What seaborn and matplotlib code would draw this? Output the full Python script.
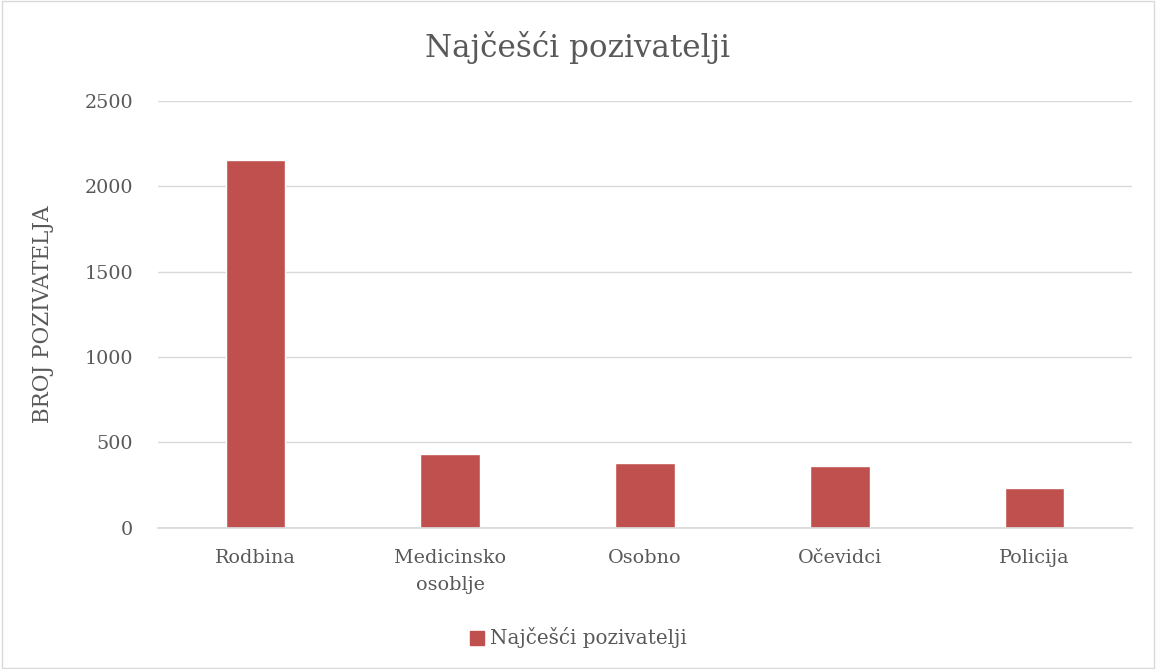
import matplotlib
matplotlib.use("Agg")
import matplotlib.pyplot as plt
import seaborn as sns
import pandas as pd
from matplotlib.patches import Patch

categories = ["Rodbina", "Medicinsko\nosoblje", "Osobno", "Očevidci", "Policija"]
values = [2155, 433, 378, 364, 231]
series_name = "Najčešći pozivatelji"
yticks = [0, 500, 1000, 1500, 2000, 2500]

sns.set_theme(style="white")
plt.rcParams['font.family'] = ['DejaVu Serif']
txt = "#595959"
bar_color = "#C0504D"

df = pd.DataFrame({"cat": categories, "val": values})

fig = plt.figure(figsize=(11.56, 6.69), dpi=100)
ax = fig.add_axes([158/1156, 1 - 527.7/669, (1132-158)/1156, (527.7-100.7)/669])
sns.barplot(data=df, x="cat", y="val", color=bar_color, saturation=1, width=0.305, ax=ax)

ax.set_ylim(0, 2500)
ax.set_yticks(yticks)
ax.set_yticklabels([str(t) for t in yticks], fontsize=13.8, color=txt)
ax.tick_params(axis='x', labelsize=13.8, colors=txt, length=0, pad=15)
ax.tick_params(axis='y', length=0, pad=18)
for lbl in ax.get_xticklabels():
    lbl.set_color(txt)
    lbl.set_linespacing(1.7)
ax.yaxis.grid(True, color="#D9D9D9", linewidth=1)
ax.set_axisbelow(True)
for s in ["top", "right", "left"]:
    ax.spines[s].set_visible(False)
ax.spines["bottom"].set_color("#D9D9D9")
ax.set_xlabel("")
ax.set_ylabel("BROJ POZIVATELJA", fontsize=15.5, color=txt, labelpad=22)

fig.text(0.5, 1 - 48/669, series_name, ha="center", va="center", fontsize=22.3, color=txt)

handle = Patch(facecolor=bar_color, edgecolor=bar_color)
fig.legend([handle], [series_name], loc="center", bbox_to_anchor=(0.5, 1 - 638/669),
           frameon=False, fontsize=14.3, labelcolor=txt, handlelength=0.7, handleheight=0.7,
           handletextpad=0.3)

border = plt.Rectangle((0.002, 0.002), 0.996, 0.996, transform=fig.transFigure,
                       fill=False, edgecolor="#D9D9D9", linewidth=1)
fig.patches.append(border)

fig.savefig("out.png", dpi=100)
